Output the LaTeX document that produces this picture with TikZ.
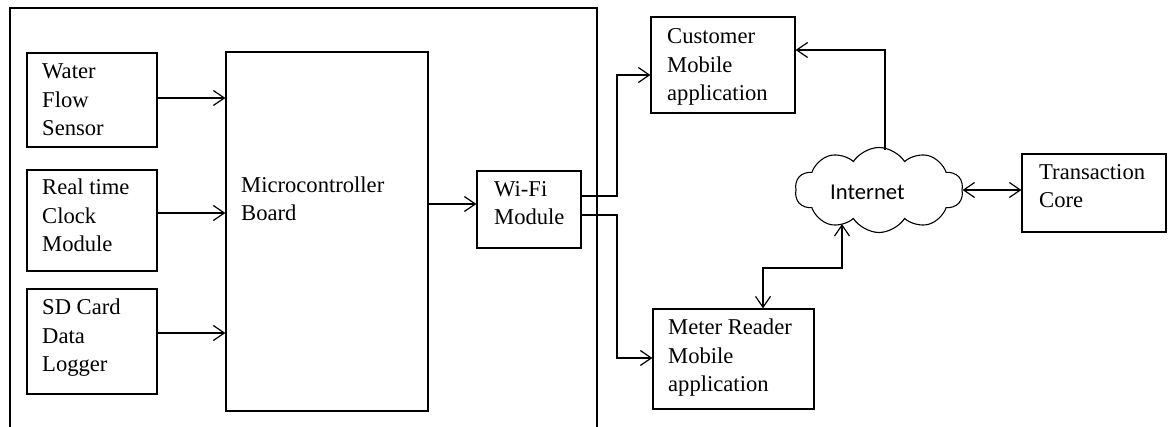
\documentclass[tikz,border=0pt]{standalone}
\usepackage{fontspec}
\setmainfont{Liberation Serif}
\newfontfamily\inetfont{Carlito}
\usetikzlibrary{arrows.meta,shapes.symbols,calc}
\tikzset{
  box/.style={draw, line width=1.2pt, inner sep=0pt},
  txt/.style={align=left, inner sep=0pt, anchor=base west, font=\fontsize{22.6}{28.8}\selectfont},
  arr/.style={line width=1.2pt, -{Straight Barb[length=11pt,width=15pt,line width=1.2pt]}},
  darr/.style={line width=1.2pt, {Straight Barb[length=11pt,width=15pt,line width=1.2pt]}-{Straight Barb[length=11pt,width=15pt,line width=1.2pt]}},
  wire/.style={line width=1.2pt}
}
\begin{document}
\begin{tikzpicture}[x=1pt,y=-1pt]
\useasboundingbox (0,0) rectangle (1168,427);
% outer frame (open at bottom)
\draw[wire] (10,427) -- (10,8) -- (597,8) -- (597,427);
% boxes
\node[box, minimum width=130pt, minimum height=94pt] (water) at (92,100) {};
\node[box, minimum width=130pt, minimum height=101pt] (clock) at (92,220.5) {};
\node[box, minimum width=130pt, minimum height=105pt] (sd) at (92,341.5) {};
\node[box, minimum width=202pt, minimum height=359pt] (micro) at (327,231.5) {};
\node[box, minimum width=104pt, minimum height=77pt] (wifi) at (529,209.5) {};
\node[box, minimum width=144pt, minimum height=96pt] (cust) at (723,65) {};
\node[box, minimum width=161pt, minimum height=100pt] (meter) at (733.5,359) {};
\node[box, minimum width=144pt, minimum height=78pt] (trans) at (1094,193) {};
\node[cloud, draw, line width=1.1pt, cloud puffs=10, cloud puff arc=115, aspect=2, minimum width=168pt, minimum height=85pt, inner sep=0pt] (inet) at (879,190) {};
% texts (anchored at the baseline of the last line)
\node[txt] (t-water) at (42,136) {Water\\Flow\\Sensor};
\node[txt] (t-clock) at (42,252) {Real time\\Clock\\Module};
\node[txt] (t-sd) at (42,372) {SD Card\\Data\\Logger};
\node[txt] (t-micro) at (241,221) {Microcontroller\\Board};
\node[txt] (t-wifi) at (494,225) {Wi-Fi\\Module};
\node[txt] (t-cust) at (667,101) {Customer\\Mobile\\application};
\node[txt] (t-meter) at (668,392) {Meter Reader\\Mobile\\application};
\node[txt] (t-trans) at (1039,208) {Transaction\\Core};
\node[inner sep=0pt, anchor=base west, font=\inetfont\fontsize{22.6}{26}\selectfont] (t-inet) at (830,200) {Internet};
% connectors
\draw[arr] (water.east |- 0,98) -- (micro.west |- 0,98);
\draw[arr] (clock.east |- 0,213) -- (micro.west |- 0,213);
\draw[arr] (sd.east |- 0,333) -- (micro.west |- 0,333);
\draw[arr] (micro.east |- 0,204) -- (wifi.west |- 0,204);
\draw[arr] (wifi.east |- 0,196) -- (617,196) -- (617,75) -- (cust.west |- 0,75);
\draw[arr] (wifi.east |- 0,215) -- (617,215) -- (617,358) -- (meter.west |- 0,358);
\draw[arr] ($(inet.north -| 885,0)+(0,3)$) -- (885,50) -- (cust.east |- 0,50);
\draw[darr] (inet.east) -- (trans.west |- inet.east);
\draw[darr] (meter.north -| 763,0) -- (763,268) -- (842,268) -- ($(inet.south -| 842,0)+(0,-9)$);
\end{tikzpicture}
\end{document}
